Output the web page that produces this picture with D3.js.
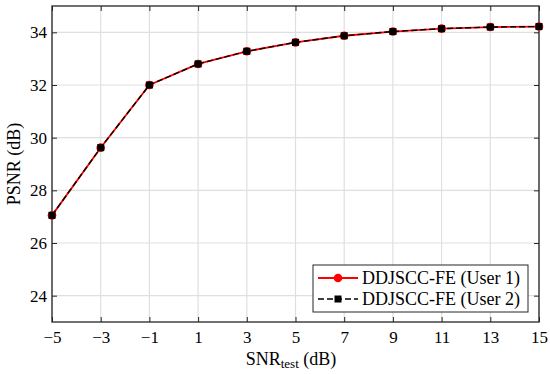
<!DOCTYPE html>
<html>
<head>
<meta charset="utf-8">
<script src="https://cdnjs.cloudflare.com/ajax/libs/d3/7.8.5/d3.min.js"></script>
<style>
  body { margin: 0; background: #fff; }
  text { font-family: "Liberation Serif", "DejaVu Serif", serif; fill: #000; }
</style>
</head>
<body>
<script>
var snr = [-5, -3, -1, 1, 3, 5, 7, 9, 11, 13, 15];
var user1 = [27.05, 29.62, 32.0, 32.8, 33.28, 33.62, 33.87, 34.03, 34.14, 34.2, 34.22];
var user2 = [27.05, 29.62, 32.0, 32.8, 33.28, 33.62, 33.87, 34.03, 34.14, 34.2, 34.22];
var xTicks = [-5, -3, -1, 1, 3, 5, 7, 9, 11, 13, 15];
var yTicks = [24, 26, 28, 30, 32, 34];
var names = ["DDJSCC-FE (User 1)", "DDJSCC-FE (User 2)"];

var w = 550, h = 374;
var pLeft = 52, pRight = 539, pTop = 6, pBottom = 322;

var svg = d3.select("body").append("svg").attr("width", w).attr("height", h);

var x = d3.scaleLinear().domain([-5, 15]).range([pLeft, pRight]);
var y = d3.scaleLinear().domain([23, 35]).range([pBottom, pTop]);

// grid
svg.selectAll(".vgrid").data(xTicks).enter().append("line")
    .attr("x1", function (d) { return x(d); }).attr("x2", function (d) { return x(d); })
    .attr("y1", pTop).attr("y2", pBottom)
    .attr("stroke", "#dfdfdf").attr("stroke-width", 1.2);
svg.selectAll(".hgrid").data(yTicks).enter().append("line")
    .attr("y1", function (d) { return y(d); }).attr("y2", function (d) { return y(d); })
    .attr("x1", pLeft).attr("x2", pRight)
    .attr("stroke", "#dfdfdf").attr("stroke-width", 1.2);

// axes (ticks inside)
var tickFmt = function (d) { return d < 0 ? "\u2212" + Math.abs(d) : d; };
var xAxis = svg.append("g").attr("transform", "translate(0," + pBottom + ")")
    .call(d3.axisBottom(x).tickValues(xTicks).tickSizeInner(-5).tickSizeOuter(0).tickPadding(9).tickFormat(tickFmt));
var xAxisTop = svg.append("g").attr("transform", "translate(0," + pTop + ")")
    .call(d3.axisTop(x).tickValues(xTicks).tickSizeInner(-5).tickSizeOuter(0).tickFormat(""));
var yAxis = svg.append("g").attr("transform", "translate(" + pLeft + ",0)")
    .call(d3.axisLeft(y).tickValues(yTicks).tickSizeInner(-5).tickSizeOuter(0).tickPadding(5));
var yAxisRight = svg.append("g").attr("transform", "translate(" + pRight + ",0)")
    .call(d3.axisRight(y).tickValues(yTicks).tickSizeInner(-5).tickSizeOuter(0).tickFormat(""));

[xAxis, xAxisTop, yAxis, yAxisRight].forEach(function (g) {
    g.select(".domain").remove();
    g.selectAll("line").attr("stroke", "#262626");
    g.selectAll("text").style("font-size", "17px").attr("fill", "#000")
        .style("font-family", "'Liberation Serif', 'DejaVu Serif', serif");
});

svg.append("rect").attr("x", pLeft).attr("y", pTop)
    .attr("width", pRight - pLeft).attr("height", pBottom - pTop)
    .attr("fill", "none").attr("stroke", "#262626").attr("stroke-width", 1.3);

// series
var pts1 = snr.map(function (d, i) { return [d, user1[i]]; });
var pts2 = snr.map(function (d, i) { return [d, user2[i]]; });
var line = d3.line().x(function (d) { return x(d[0]); }).y(function (d) { return y(d[1]); });

svg.append("path").datum(pts1).attr("d", line)
    .attr("fill", "none").attr("stroke", "#ff0000").attr("stroke-width", 1.8);
svg.selectAll(".m1").data(pts1).enter().append("circle")
    .attr("cx", function (d) { return x(d[0]); }).attr("cy", function (d) { return y(d[1]); })
    .attr("r", 4.3).attr("fill", "#ff0000");

svg.append("path").datum(pts2).attr("d", line)
    .attr("fill", "none").attr("stroke", "#000").attr("stroke-width", 1.4)
    .attr("stroke-dasharray", "6,3");
svg.selectAll(".m2").data(pts2).enter().append("rect")
    .attr("x", function (d) { return x(d[0]) - 3.5; }).attr("y", function (d) { return y(d[1]) - 3.5; })
    .attr("width", 7).attr("height", 7).attr("fill", "#000");

// labels
svg.append("text").attr("transform", "translate(20," + ((pTop + pBottom) / 2) + ") rotate(-90)")
    .attr("text-anchor", "middle").style("font-size", "18px").text("PSNR (dB)");

var xl = svg.append("text").attr("x", 291).attr("y", 365)
    .attr("text-anchor", "middle").style("font-size", "18px");
xl.append("tspan").text("SNR");
xl.append("tspan").attr("dy", 3).style("font-size", "13px").text("test");
xl.append("tspan").attr("dy", -3).text(" (dB)");

// legend
var lg = svg.append("g");
lg.append("rect").attr("x", 313).attr("y", 265).attr("width", 215).attr("height", 47)
    .attr("fill", "#fff").attr("stroke", "#262626").attr("stroke-width", 1);
var ly = [278, 299];
lg.append("line").attr("x1", 318).attr("x2", 358).attr("y1", ly[0]).attr("y2", ly[0])
    .attr("stroke", "#ff0000").attr("stroke-width", 1.8);
lg.append("circle").attr("cx", 338).attr("cy", ly[0]).attr("r", 4.3).attr("fill", "#ff0000");
lg.append("line").attr("x1", 318).attr("x2", 358).attr("y1", ly[1]).attr("y2", ly[1])
    .attr("stroke", "#000").attr("stroke-width", 1.4).attr("stroke-dasharray", "6,3");
lg.append("rect").attr("x", 334.5).attr("y", ly[1] - 3.5).attr("width", 7).attr("height", 7).attr("fill", "#000");
lg.selectAll(".lt").data(names).enter().append("text")
    .attr("x", 362).attr("y", function (d, i) { return ly[i] + 6; })
    .style("font-size", "18px").text(function (d) { return d; });
</script>
</body>
</html>
